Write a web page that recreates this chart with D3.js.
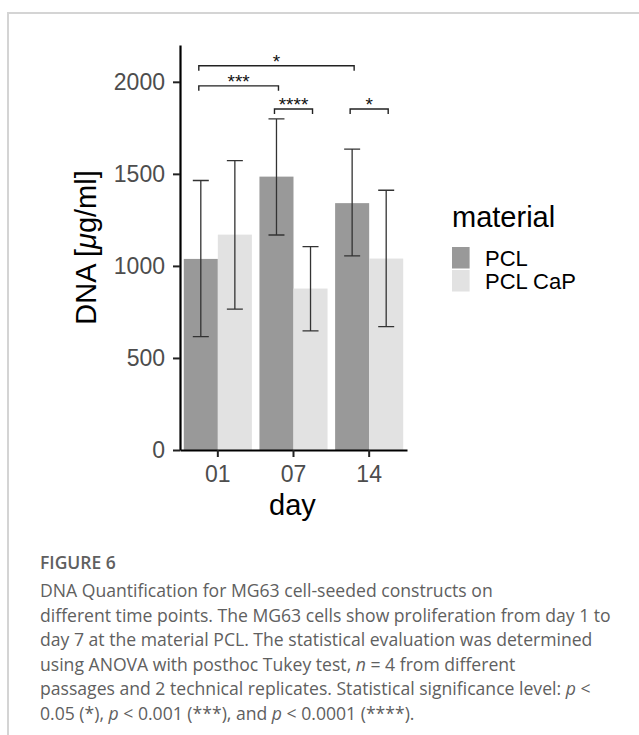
<!DOCTYPE html>
<html>
<head>
<meta charset="utf-8">
<script src="https://cdn.jsdelivr.net/npm/d3@7"></script>
<style>
  body { margin: 0; background: #fff; }
  svg { display: block; }
  .ggtext { font-family: "Liberation Sans", Arial, Helvetica, sans-serif; }
  .caption { font-family: "Open Sans", "Noto Sans", sans-serif; fill: #606060; }
</style>
</head>
<body>
<div id="chart"></div>
<script>
// values
var days = ["01", "07", "14"];
var materials = ["PCL", "PCL CaP"];
var materialColors = ["#999999", "#e2e2e2"];
var meanPCL = [1038, 1485, 1341];
var meanCaP = [1170, 877, 1040];
var lowPCL = [616, 1168, 1054];
var highPCL = [1464, 1799, 1634];
var lowCaP = [765, 647, 670];
var highCaP = [1572, 1105, 1411];
var yTicks = [0, 500, 1000, 1500, 2000];

// significance brackets: [day, material] at each end, height, label
var brackets = [
  { from: ["01", "PCL"], to: ["14", "PCL"], y: 2087, label: "*" },
  { from: ["01", "PCL"], to: ["07", "PCL"], y: 1978, label: "***" },
  { from: ["07", "PCL"], to: ["07", "PCL CaP"], y: 1852, label: "****" },
  { from: ["14", "PCL"], to: ["14", "PCL CaP"], y: 1852, label: "*" }
];

var captionTitle = "FIGURE 6";
var captionLines = [
  [["DNA Quantification for MG63 cell-seeded constructs on", false]],
  [["different time points. The MG63 cells show proliferation from day 1 to", false]],
  [["day 7 at the material PCL. The statistical evaluation was determined", false]],
  [["using ANOVA with posthoc Tukey test, ", false], ["n", true], [" = 4 from different", false]],
  [["passages and 2 technical replicates. Statistical significance level: ", false], ["p", true], [" <", false]],
  [["0.05 (*), ", false], ["p", true], [" < 0.001 (***), and ", false], ["p", true], [" < 0.0001 (****).", false]]
];

var svgWidth = 639;
var svgHeight = 735;

var svg = d3.select("#chart")
  .append("svg")
  .attr("width", svgWidth)
  .attr("height", svgHeight);

svg.append("rect")
  .attr("width", svgWidth)
  .attr("height", svgHeight)
  .attr("fill", "#fff");

// figure frame (top and left rule)
svg.append("path")
  .attr("d", "M8,735 L8,13 L639,13")
  .attr("fill", "none")
  .attr("stroke", "#d4d4d4")
  .attr("stroke-width", 2);

// panel
var panel = { left: 180, right: 407, top: 45, bottom: 450 };

var xScale = d3.scaleBand()
  .domain(days)
  .range([panel.left, panel.right]);

var bw = xScale.bandwidth();

var xSub = d3.scaleBand()
  .domain(materials)
  .range([0, bw * 0.9]);

var yScale = d3.scaleLinear()
  .domain([0, 2200])
  .range([panel.bottom, panel.top]);

var colorScale = d3.scaleOrdinal()
  .domain(materials)
  .range(materialColors);

function barX(day, mat) {
  return xScale(day) + bw * 0.05 + xSub(mat);
}
function barCenter(day, mat) {
  return barX(day, mat) + xSub.bandwidth() / 2;
}

// build rows from the arrays
var rows = [];
days.forEach(function(d, i) {
  rows.push({ day: d, material: "PCL", mean: meanPCL[i], low: lowPCL[i], high: highPCL[i] });
  rows.push({ day: d, material: "PCL CaP", mean: meanCaP[i], low: lowCaP[i], high: highCaP[i] });
});

var chartGroup = svg.append("g").attr("class", "ggtext");

// bars
chartGroup.selectAll("rect.bar")
  .data(rows)
  .enter()
  .append("rect")
  .attr("class", "bar")
  .attr("x", d => barX(d.day, d.material))
  .attr("width", xSub.bandwidth())
  .attr("y", d => yScale(d.mean))
  .attr("height", d => yScale(0) - yScale(d.mean))
  .attr("fill", d => colorScale(d.material));

// error bars
var capHalf = 8;
var errGroup = chartGroup.append("g")
  .attr("stroke", "#333")
  .attr("stroke-width", 1.3)
  .attr("fill", "none");

errGroup.selectAll("path")
  .data(rows)
  .enter()
  .append("path")
  .attr("d", function(d) {
    var cx = barCenter(d.day, d.material);
    var yl = yScale(d.low), yh = yScale(d.high);
    return "M" + (cx - capHalf) + "," + yh + "H" + (cx + capHalf) +
      "M" + cx + "," + yh + "V" + yl +
      "M" + (cx - capHalf) + "," + yl + "H" + (cx + capHalf);
  });

// axes
var leftAxis = d3.axisLeft(yScale)
  .tickValues(yTicks)
  .tickFormat(d3.format("d"))
  .tickSize(7)
  .tickSizeOuter(0)
  .tickPadding(8);

var bottomAxis = d3.axisBottom(xScale)
  .tickSize(7)
  .tickSizeOuter(0)
  .tickPadding(9);

var yAxis = chartGroup.append("g")
  .attr("transform", `translate(${panel.left}, 0)`)
  .call(leftAxis);

var xAxis = chartGroup.append("g")
  .attr("transform", `translate(0, ${panel.bottom})`)
  .call(bottomAxis);

[yAxis, xAxis].forEach(function(ax) {
  ax.select(".domain").attr("stroke", "#000").attr("stroke-width", 2.2);
  ax.selectAll(".tick line").attr("stroke", "#222").attr("stroke-width", 2);
  ax.selectAll(".tick text")
    .attr("fill", "#4d4d4d")
    .style("font-size", "23px")
    .style("font-family", "'Liberation Sans', Arial, sans-serif");
});

// significance brackets
var tipLen = 5;
var sigGroup = chartGroup.append("g");
brackets.forEach(function(b) {
  var x1 = barCenter(b.from[0], b.from[1]) - 2;
  var x2 = barCenter(b.to[0], b.to[1]) + 2;
  var yb = yScale(b.y);
  sigGroup.append("path")
    .attr("d", "M" + x1 + "," + (yb + tipLen) + "V" + yb + "H" + x2 + "V" + (yb + tipLen))
    .attr("fill", "none")
    .attr("stroke", "#222")
    .attr("stroke-width", 1.4);
  sigGroup.append("text")
    .attr("x", (x1 + x2) / 2)
    .attr("y", yb + 2)
    .attr("text-anchor", "middle")
    .style("font-size", "19px")
    .attr("fill", "#111")
    .text(b.label);
});

// axis titles
chartGroup.append("text")
  .attr("x", (panel.left + panel.right) / 2 - 1)
  .attr("y", 515)
  .attr("text-anchor", "middle")
  .style("font-size", "29px")
  .attr("fill", "#000")
  .text("day");

var yTitle = chartGroup.append("text")
  .attr("transform", `translate(96, ${(panel.top + panel.bottom) / 2}) rotate(-90)`)
  .attr("text-anchor", "middle")
  .style("font-size", "29px")
  .attr("fill", "#000");
yTitle.append("tspan").text("DNA [");
yTitle.append("tspan").style("font-style", "italic").text("\u03bc");
yTitle.append("tspan").text("g/ml]");

// legend
var legend = chartGroup.append("g").attr("transform", "translate(452, 0)");
legend.append("text")
  .attr("x", 0)
  .attr("y", 227)
  .style("font-size", "29px")
  .attr("fill", "#000")
  .text("material");

var keySize = 21.5;
var keyTop = 247;
var keys = legend.selectAll("g.key")
  .data(materials)
  .enter()
  .append("g")
  .attr("class", "key")
  .attr("transform", (d, i) => `translate(0, ${keyTop + i * (keySize + 1.5)})`);

keys.append("rect")
  .attr("width", 17.6)
  .attr("height", keySize)
  .attr("fill", d => colorScale(d));

keys.append("text")
  .attr("x", 33)
  .attr("y", 19)
  .style("font-size", "22px")
  .attr("fill", "#000")
  .text(d => d);

// caption
var cap = svg.append("g").attr("class", "caption");
cap.append("text")
  .attr("x", 40)
  .attr("y", 569)
  .style("font-size", "17.5px")
  .style("font-weight", 600)
  .text(captionTitle);

captionLines.forEach(function(parts, i) {
  var t = cap.append("text")
    .attr("x", 40)
    .attr("y", 597 + i * 24.5)
    .style("font-size", "17.6px");
  parts.forEach(function(p) {
    t.append("tspan")
      .style("font-style", p[1] ? "italic" : "normal")
      .text(p[0]);
  });
});
</script>
</body>
</html>
